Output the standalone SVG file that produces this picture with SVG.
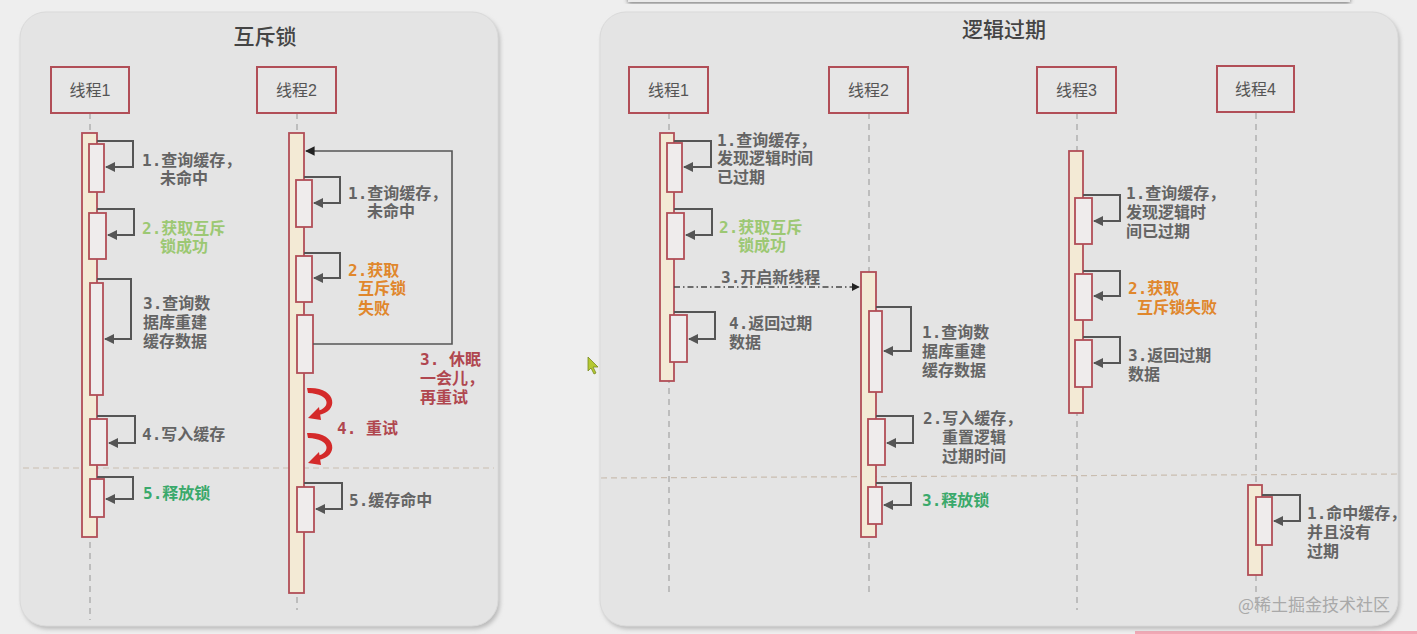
<svg xmlns="http://www.w3.org/2000/svg" width="1417" height="634" viewBox="0 0 1417 634">
<defs>
<style>
.panel{fill:#e4e4e4;stroke:#dadada;stroke-width:1}
.head{fill:#e6e6e6;stroke:#b14e57;stroke-width:2}
.headt{font-family:"Liberation Sans","Noto Sans CJK SC",sans-serif;font-size:16px;fill:#555;text-anchor:middle}
.title{font-family:"Noto Sans CJK SC",sans-serif;font-size:21px;font-weight:500;fill:#444;text-anchor:middle}
.life{stroke:#a8a8a8;stroke-width:1.3;stroke-dasharray:6 5;fill:none}
.bar{fill:#f3ead5;stroke:#b14e57;stroke-width:1.8}
.act{fill:#efecec;stroke:#b14e57;stroke-width:1.8}
.self{fill:none;stroke:#555;stroke-width:2;marker-end:url(#ah)}
.lbl{font-family:"DejaVu Sans Mono","Noto Sans CJK SC",monospace;font-size:16px;font-weight:bold;fill:#646464}
.green{fill:#9cc873}
.orange{fill:#e0872c}
.teal{fill:#3aa96b}
.dred{fill:#b0474f}
.sep{stroke:#c9bdb0;stroke-width:1.2;stroke-dasharray:6 4;fill:none}
.rarrow{fill:#d42a2a}
</style>
<marker id="ah" viewBox="0 0 10 10" refX="9" refY="5" markerWidth="5" markerHeight="5" orient="auto"><path d="M0,0 L10,5 L0,10 z" fill="#555"/></marker>
<marker id="ahb" viewBox="0 0 10 10" refX="9" refY="5" markerWidth="6" markerHeight="6" orient="auto"><path d="M0,0 L10,5 L0,10 z" fill="#222"/></marker>
<filter id="sh" x="-5%" y="-5%" width="110%" height="110%"><feGaussianBlur stdDeviation="2"/></filter>
</defs>
<rect x="0" y="0" width="1417" height="634" fill="#eeeeee"/>
<rect x="628" y="-4" width="722" height="7" fill="#6a6a6a" filter="url(#sh)"/>
<rect x="628" y="-4" width="722" height="6" fill="#eaeaea"/>
<rect x="1135" y="631" width="282" height="3" fill="#f2a6b4"/>

<g id="panel-left">
<rect x="22" y="15" width="478" height="614" rx="26" fill="#b9b9b9" filter="url(#sh)"/>
<rect x="20" y="12" width="478" height="614" rx="26" class="panel"/>
<text x="265" y="44" class="title">互斥锁</text>
</g>
<g id="panel-right">
<rect x="602" y="15" width="798" height="614" rx="26" fill="#b9b9b9" filter="url(#sh)"/>
<rect x="600" y="12" width="798" height="614" rx="26" class="panel"/>
<text x="1004" y="37" class="title">逻辑过期</text>
</g>

<g id="connectors">
<line x1="90" y1="113" x2="90" y2="620" class="life"/>
<line x1="297" y1="113" x2="297" y2="610" class="life"/>
<line x1="669" y1="113" x2="669" y2="597" class="life"/>
<line x1="869" y1="113" x2="869" y2="597" class="life"/>
<line x1="1077" y1="113" x2="1077" y2="610" class="life"/>
<line x1="1256" y1="113" x2="1256" y2="610" class="life"/>
<line x1="23" y1="468" x2="494" y2="468" class="sep"/>
<line x1="601" y1="478" x2="1397" y2="474" class="sep"/>
</g>

<g id="l-t1">
<rect x="51" y="67" width="78" height="46" class="head"/>
<text x="90" y="96" class="headt">线程1</text>
<rect x="82" y="133" width="15" height="404" class="bar"/>
<rect x="89" y="144" width="15" height="48" class="act"/>
<rect x="89" y="213" width="17" height="46" class="act"/>
<rect x="90" y="283" width="13" height="112" class="act"/>
<rect x="90" y="419" width="17" height="46" class="act"/>
<rect x="90" y="479" width="14" height="38" class="act"/>
</g>
<g id="l-t1-msgs">
<path d="M97,141 H133 V167 H106" class="self"/>
<text x="142" y="166" class="lbl">1.查询缓存，</text>
<text x="160" y="184" class="lbl">未命中</text>
<path d="M97,209 H134 V235 H108" class="self"/>
<text x="142" y="234" class="lbl green">2.获取互斥</text>
<text x="160" y="252" class="lbl green">锁成功</text>
<path d="M97,279 H131 V339 H105" class="self"/>
<text x="143" y="309" class="lbl">3.查询数</text>
<text x="143" y="328" class="lbl">据库重建</text>
<text x="143" y="347" class="lbl">缓存数据</text>
<path d="M97,416 H135 V443 H109" class="self"/>
<text x="142" y="440" class="lbl">4.写入缓存</text>
<path d="M97,477 H133 V499 H106" class="self"/>
<text x="143" y="499" class="lbl teal">5.释放锁</text>
</g>

<g id="l-t2">
<rect x="257" y="67" width="79" height="46" class="head"/>
<text x="296.5" y="96" class="headt">线程2</text>
<rect x="289" y="133" width="15" height="460" class="bar"/>
<rect x="296" y="180" width="16" height="47" class="act"/>
<rect x="296" y="256" width="16" height="46" class="act"/>
<rect x="297" y="315" width="16" height="58" class="act"/>
<rect x="297" y="487" width="17" height="45" class="act"/>
</g>
<g id="l-t2-msgs">
<path d="M313,344 H452 V151 H306" fill="none" stroke="#555" stroke-width="1.6" marker-end="url(#ahb)"/>
<path d="M304,177 H340 V203 H314" class="self"/>
<text x="348" y="199" class="lbl">1.查询缓存，</text>
<text x="367" y="217" class="lbl">未命中</text>
<path d="M304,253 H340 V278 H314" class="self"/>
<text x="348" y="276" class="lbl orange">2.获取</text>
<text x="358" y="294" class="lbl orange">互斥锁</text>
<text x="358" y="314" class="lbl orange">失败</text>
<text x="420" y="365" class="lbl dred">3. 休眠</text>
<text x="420" y="384" class="lbl dred">一会儿，</text>
<text x="420" y="403" class="lbl dred">再重试</text>
<path class="rarrow" d="M307,388 C337,386 340,412 318,415 L317,411 C331,408 331,394 308,393 Z"/>
<polygon class="rarrow" points="308,418 319,407 321,420"/>
<path class="rarrow" d="M307,433 C337,431 340,457 318,460 L317,456 C331,453 331,439 308,438 Z"/>
<polygon class="rarrow" points="308,463 319,452 321,465"/>
<text x="337" y="434" class="lbl dred">4. 重试</text>
<path d="M304,483 H342 V509 H316" class="self"/>
<text x="349" y="506" class="lbl">5.缓存命中</text>
</g>

<g id="r-t1">
<rect x="629" y="67" width="79" height="46" class="head"/>
<text x="668.5" y="96" class="headt">线程1</text>
<rect x="660" y="133" width="14" height="248" class="bar"/>
<rect x="667" y="143" width="15" height="49" class="act"/>
<rect x="667" y="213" width="17" height="46" class="act"/>
<rect x="670" y="315" width="17" height="47" class="act"/>
</g>
<g id="r-t1-msgs">
<path d="M674,141 H711 V167 H684" class="self"/>
<text x="717" y="146" class="lbl">1.查询缓存，</text>
<text x="717" y="164" class="lbl">发现逻辑时间</text>
<text x="717" y="183" class="lbl">已过期</text>
<path d="M674,209 H712 V235 H686" class="self"/>
<text x="719" y="233" class="lbl green">2.获取互斥</text>
<text x="738" y="251" class="lbl green">锁成功</text>
<path d="M674,287 H859" fill="none" stroke="#444" stroke-width="1.3" stroke-dasharray="6 3 1.5 3" marker-end="url(#ahb)"/>
<text x="721" y="283" class="lbl">3.开启新线程</text>
<path d="M674,312 H715 V339 H689" class="self"/>
<text x="729" y="329" class="lbl">4.返回过期</text>
<text x="729" y="348" class="lbl">数据</text>
</g>

<g id="r-t2">
<rect x="829" y="67" width="79" height="46" class="head"/>
<text x="868.5" y="96" class="headt">线程2</text>
<rect x="861" y="272" width="15" height="265" class="bar"/>
<rect x="869" y="311" width="13" height="81" class="act"/>
<rect x="868" y="419" width="17" height="46" class="act"/>
<rect x="868" y="487" width="14" height="37" class="act"/>
</g>
<g id="r-t2-msgs">
<path d="M876,307 H911 V351 H884" class="self"/>
<text x="922" y="338" class="lbl">1.查询数</text>
<text x="922" y="357" class="lbl">据库重建</text>
<text x="922" y="376" class="lbl">缓存数据</text>
<path d="M876,416 H913 V443 H887" class="self"/>
<text x="923" y="424" class="lbl">2.写入缓存，</text>
<text x="942" y="443" class="lbl">重置逻辑</text>
<text x="942" y="462" class="lbl">过期时间</text>
<path d="M876,483 H911 V505 H884" class="self"/>
<text x="922" y="506" class="lbl teal">3.释放锁</text>
</g>

<g id="r-t3">
<rect x="1037" y="67" width="79" height="46" class="head"/>
<text x="1076.5" y="96" class="headt">线程3</text>
<rect x="1069" y="151" width="14" height="262" class="bar"/>
<rect x="1075" y="198" width="17" height="46" class="act"/>
<rect x="1075" y="274" width="17" height="46" class="act"/>
<rect x="1075" y="340" width="17" height="47" class="act"/>
</g>
<g id="r-t3-msgs">
<path d="M1083,195 H1120 V221 H1094" class="self"/>
<text x="1126" y="199" class="lbl">1.查询缓存，</text>
<text x="1126" y="218" class="lbl">发现逻辑时</text>
<text x="1126" y="237" class="lbl">间已过期</text>
<path d="M1083,271 H1120 V296 H1094" class="self"/>
<text x="1128" y="294" class="lbl orange">2.获取</text>
<text x="1137" y="313" class="lbl orange">互斥锁失败</text>
<path d="M1083,337 H1120 V363 H1094" class="self"/>
<text x="1128" y="361" class="lbl">3.返回过期</text>
<text x="1128" y="380" class="lbl">数据</text>
</g>

<g id="r-t4">
<rect x="1217" y="66" width="77" height="46" class="head"/>
<text x="1255.5" y="95" class="headt">线程4</text>
<rect x="1248" y="485" width="14" height="90" class="bar"/>
<rect x="1256" y="497" width="16" height="48" class="act"/>
</g>
<g id="r-t4-msgs">
<path d="M1262,495 H1300 V521 H1274" class="self"/>
<text x="1307" y="519" class="lbl">1.命中缓存，</text>
<text x="1307" y="538" class="lbl">并且没有</text>
<text x="1307" y="557" class="lbl">过期</text>
</g>

<polygon points="588,357 588,371 591,368 594,374 596,373 593,367 598,367" fill="#b5c932" stroke="#7a8a20" stroke-width="0.8"/>
<text x="1238" y="611" font-family="Noto Sans CJK SC,sans-serif" font-size="17" fill="#a9a9a9">@稀土掘金技术社区</text>
</svg>
